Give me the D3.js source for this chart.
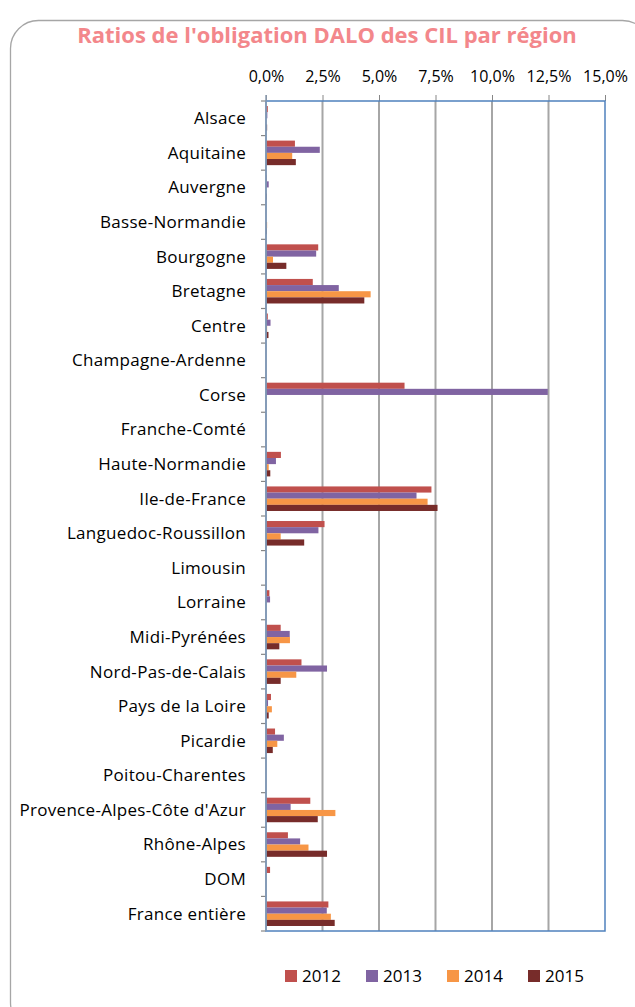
<!DOCTYPE html>
<meta charset="utf-8">
<title>Ratios DALO CIL</title>
<style>
  body { margin: 0; background: #fff; }
  text { font-family: "Open Sans", sans-serif; fill: #000; }
</style>
<body>
<script src="https://d3js.org/d3.v7.min.js"></script>
<script type="text/javascript">

// regions, top to bottom
var regions = ["Alsace", "Aquitaine", "Auvergne", "Basse-Normandie", "Bourgogne", "Bretagne",
  "Centre", "Champagne-Ardenne", "Corse", "Franche-Comté", "Haute-Normandie", "Ile-de-France",
  "Languedoc-Roussillon", "Limousin", "Lorraine", "Midi-Pyrénées", "Nord-Pas-de-Calais",
  "Pays de la Loire", "Picardie", "Poitou-Charentes", "Provence-Alpes-Côte d'Azur",
  "Rhône-Alpes", "DOM", "France entière"];

var years = ["2012", "2013", "2014", "2015"];
var colors = ["#C0504D", "#8064A2", "#F79646", "#772C2A"];

// ratios in %
var v2012 = [0.08, 1.28, 0.03, 0, 2.31, 2.07, 0.08, 0, 6.13, 0, 0.66, 7.32, 2.59, 0, 0.15, 0.65, 1.57, 0.22, 0.40, 0, 1.96, 0.97, 0.18, 2.76];
var v2013 = [0.06, 2.38, 0.12, 0, 2.22, 3.22, 0.20, 0, 12.47, 0, 0.44, 6.66, 2.32, 0, 0.18, 1.05, 2.70, 0.09, 0.79, 0, 1.09, 1.51, 0, 2.69];
var v2014 = [0, 1.16, 0, 0.05, 0.31, 4.63, 0.05, 0, 0, 0, 0.12, 7.15, 0.65, 0, 0, 1.06, 1.34, 0.26, 0.50, 0, 3.07, 1.88, 0, 2.87];
var v2015 = [0.05, 1.32, 0.04, 0.04, 0.90, 4.35, 0.11, 0, 0, 0, 0.19, 7.59, 1.69, 0, 0, 0.59, 0.65, 0.12, 0.30, 0, 2.29, 2.70, 0, 3.04];
var series = [v2012, v2013, v2014, v2015];

var xTicks = [0, 2.5, 5, 7.5, 10, 12.5, 15];

var width = 635, height = 1007;
var pLeft = 266, pRight = 605, pTop = 101, pBottom = 931;

var svg = d3.select("body").append("svg")
  .attr("width", width)
  .attr("height", height);

// chart frame
svg.append("rect")
  .attr("x", 10.5).attr("y", 20.5)
  .attr("width", 640).attr("height", 1010)
  .attr("rx", 28).attr("ry", 28)
  .style("fill", "#fff").style("stroke", "#a6a6a6").style("stroke-width", 1.3);

svg.append("text")
  .attr("x", 327).attr("y", 43)
  .attr("text-anchor", "middle")
  .style("font-size", "22px").style("font-weight", "bold")
  .style("fill", "#F3878B")
  .text("Ratios de l'obligation DALO des CIL par région");

var x = d3.scaleLinear().domain([0, 15]).range([pLeft, pRight]);
var y = d3.scaleBand().domain(regions).range([pTop, pBottom]).paddingInner(0.29).paddingOuter(0.145);
var yCat = d3.scaleBand().domain(regions).range([pTop, pBottom]);
var y2 = d3.scaleBand().domain(years).range([0, y.bandwidth()]);

// gridlines
svg.append("g").selectAll("line").data(xTicks.slice(1, -1)).join("line")
  .attr("x1", d => x(d)).attr("x2", d => x(d))
  .attr("y1", pTop).attr("y2", pBottom)
  .style("stroke", "#a6a6a6").style("stroke-width", 2);

// top axis
var xAxis = d3.axisTop(x).tickValues(xTicks).tickSize(6).tickPadding(13)
  .tickFormat(d => d3.format(".1f")(d).replace(".", ",") + "%");
var gx = svg.append("g").attr("transform", "translate(0," + pTop + ")").call(xAxis);
gx.select(".domain").remove();
gx.selectAll("line").style("stroke", "#868686");
gx.selectAll("text").style("font-size", "16px").style("font-family", "'Open Sans', sans-serif").attr("fill", "#000");

// left ticks at category boundaries
var bounds = regions.map(r => yCat(r)).concat([pBottom]);
svg.append("g").selectAll("line").data(bounds).join("line")
  .attr("x1", pLeft - 5).attr("x2", pLeft)
  .attr("y1", d => d).attr("y2", d => d)
  .style("stroke", "#868686").style("stroke-width", 1.2);

// bars
series.forEach(function (vals, i) {
  svg.append("g").selectAll("rect").data(regions).join("rect")
    .attr("x", pLeft)
    .attr("y", r => y(r) + y2(years[i]))
    .attr("width", (r, j) => x(vals[j]) - pLeft)
    .attr("height", y2.bandwidth())
    .style("fill", colors[i]);
});

// category labels
svg.append("g").selectAll("text").data(regions).join("text")
  .attr("x", 246)
  .attr("y", r => yCat(r) + yCat.bandwidth() / 2)
  .attr("dy", "0.35em")
  .attr("text-anchor", "end")
  .style("font-size", "17px")
  .style("letter-spacing", "0.3px")
  .text(r => r);

// plot border
svg.append("rect")
  .attr("x", pLeft).attr("y", pTop)
  .attr("width", pRight - pLeft).attr("height", pBottom - pTop)
  .style("fill", "none").style("stroke", "#4F81BD").style("stroke-width", 1.5);
svg.append("line")
  .attr("x1", pLeft).attr("x2", pLeft).attr("y1", pTop - 6).attr("y2", pBottom)
  .style("stroke", "#8a9bb0").style("stroke-width", 1.5);

// legend
var lg = svg.append("g").selectAll("g").data(years).join("g")
  .attr("transform", (d, i) => "translate(" + (285 + i * 81) + ",970)");
lg.append("rect").attr("width", 12).attr("height", 12).style("fill", (d, i) => colors[i]);
lg.append("text").attr("x", 17).attr("y", 6).attr("dy", "0.36em")
  .style("font-size", "17px").text(d => d);

</script>
</body>
